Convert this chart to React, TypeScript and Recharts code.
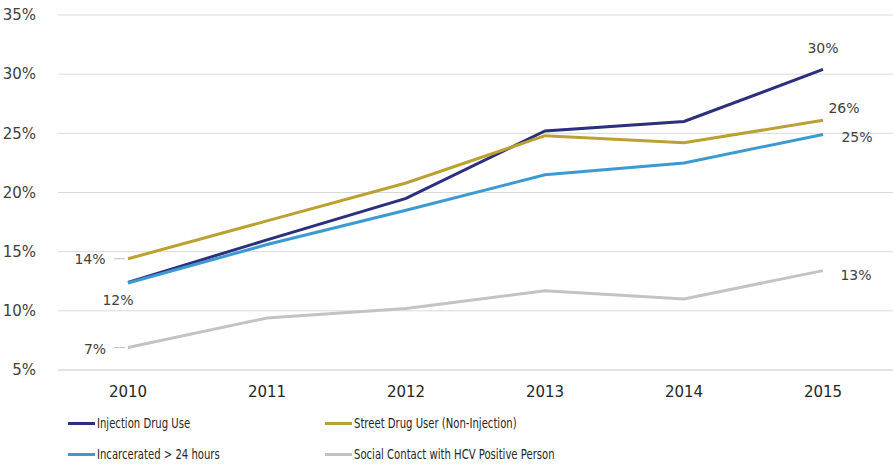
import React from 'react';
import { LineChart, Line, XAxis, YAxis, CartesianGrid, Legend, LabelList } from 'recharts';

const years = ['2010', '2011', '2012', '2013', '2014', '2015'];
const injection = [12.4, 16.0, 19.5, 25.2, 26.0, 30.4];
const street = [14.4, 17.6, 20.8, 24.8, 24.2, 26.1];
const incarcerated = [12.35, 15.6, 18.5, 21.5, 22.5, 24.9];
const social = [6.9, 9.4, 10.2, 11.7, 11.0, 13.4];
const yTicks = [5, 10, 15, 20, 25, 30, 35];

const data = years.map((year, i) => ({
  year,
  injection: injection[i],
  street: street[i],
  incarcerated: incarcerated[i],
  social: social[i],
}));

const series = [
  { key: 'injection', name: 'Injection Drug Use', color: '#2B2F7E' },
  { key: 'street', name: 'Street Drug User (Non-Injection)', color: '#BBA032' },
  { key: 'incarcerated', name: 'Incarcerated > 24 hours', color: '#3B9AD2' },
  { key: 'social', name: 'Social Contact with HCV Positive Person', color: '#C3C3C3' },
];

const font = '"DejaVu Sans", Verdana, sans-serif';

// where each end label sits relative to its point: [dx, dy, leader line]
const labelSpots: Record<string, Record<number, [number, number, boolean]>> = {
  injection: { 5: [0, -21, false] },
  street: { 0: [-38, 0, true], 5: [21, -12, false] },
  incarcerated: { 0: [-10, 17, false], 5: [34, 2, false] },
  social: { 0: [-33, 1, true], 5: [33, 4, false] },
};

const valuesOf: Record<string, number[]> = { injection, street, incarcerated, social };

const makeLabel = (key: string) => (props: any) => {
  const { x, y, index } = props;
  const spot = labelSpots[key][index];
  if (!spot) return null;
  const [dx, dy, leader] = spot;
  return (
    <g>
      {leader && <line x1={x - 14} y1={y} x2={x - 3} y2={y} stroke="#bfbfbf" strokeWidth={1} />}
      <text
        x={x + dx}
        y={y + dy}
        textAnchor="middle"
        dominantBaseline="central"
        fontSize={14}
        fontFamily={font}
        fill="#404040"
      >
        {`${Math.round(valuesOf[key][index])}%`}
      </text>
    </g>
  );
};

// legend text is a narrow face in the original, so squeeze it a bit
const renderLegend = () => (
  <div
    style={{
      display: 'grid',
      gridTemplateColumns: '257px 320px',
      rowGap: 13,
      paddingLeft: 68,
      paddingTop: 4,
      fontFamily: '"DejaVu Sans Condensed", sans-serif',
      fontSize: 14,
      color: '#262626',
    }}
  >
    {series.map((s) => (
      <div key={s.key} style={{ display: 'flex', alignItems: 'center', height: 18, whiteSpace: 'nowrap' }}>
        <span style={{ display: 'inline-block', width: 27, height: 3, background: s.color, marginRight: 2 }} />
        <span style={{ display: 'inline-block', transform: 'scaleX(0.8)', transformOrigin: 'left center' }}>
          {s.name}
        </span>
      </div>
    ))}
  </div>
);

export default function App() {
  return (
    <div style={{ position: 'absolute', left: 0, top: 0, background: '#fff' }}>
      <LineChart width={893} height={466} data={data} margin={{ top: 15, right: 0, bottom: 0, left: 0 }}>
        <CartesianGrid vertical={false} stroke="#d9d9d9" />
        <XAxis
          dataKey="year"
          padding={{ left: 70, right: 70 }}
          axisLine={{ stroke: '#d9d9d9' }}
          tickLine={false}
          tickMargin={10}
          height={40}
          tick={{ fontSize: 15, fontFamily: font, fill: '#262626' }}
        />
        <YAxis
          domain={[5, 35]}
          ticks={yTicks}
          tickFormatter={(v: number) => `${v}%`}
          axisLine={false}
          tickLine={false}
          width={58}
          tickMargin={16}
          tick={{ fontSize: 15, fontFamily: font, fill: '#404040' }}
        />
        <Legend verticalAlign="bottom" height={56} content={renderLegend} />
        {series.map((s) => (
          <Line
            key={s.key}
            dataKey={s.key}
            name={s.name}
            stroke={s.color}
            strokeWidth={3}
            dot={false}
            activeDot={false}
            type="linear"
            isAnimationActive={false}
          >
            <LabelList dataKey={s.key} content={makeLabel(s.key)} />
          </Line>
        ))}
      </LineChart>
    </div>
  );
}
